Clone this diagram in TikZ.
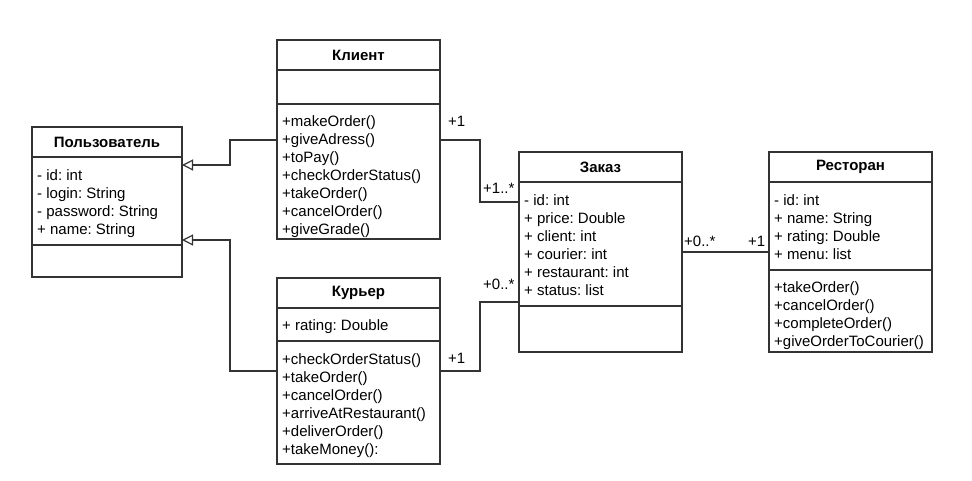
\documentclass[tikz,border=0pt]{standalone}
\usepackage{fontspec}
\setmainfont{Liberation Sans}
\usetikzlibrary{positioning, arrows.meta}

\tikzset{
  classhead/.style={draw=black!80, line width=1.2pt, outer sep=0pt, inner xsep=5pt, inner ysep=0pt,
    text width=153pt, align=center, minimum height=30pt, font=\fontsize{15}{18}\selectfont\bfseries},
  classpart/.style={draw=black!80, line width=1.2pt, outer sep=0pt, inner sep=0pt,
    minimum width=163pt, minimum height=#1},
  narrow/.style={text width=140pt, minimum width=150pt},
  members/.style={inner sep=0pt, align=left, font=\fontsize{15}{18}\selectfont\frenchspacing},
  generalize/.style={draw=black!80, line width=1.2pt, -{Triangle[open, length=11pt, width=11pt, fill=white]}},
  assoc/.style={draw=black!80, line width=1.2pt},
  mult/.style={font=\fontsize{15}{18}\selectfont, inner sep=0pt}
}

\begin{document}
\begin{tikzpicture}[x=1pt, y=-1pt]
    \useasboundingbox (0,0) rectangle (972,480);

    % Пользователь
    \node[classhead, narrow] (user) at (107,142) {Пользователь};
    \node[classpart=88pt, narrow, below=0pt of user] (userattr) {};
    \node[classpart=32pt, narrow, below=0pt of userattr] (userops) {};
    \node[members, below right=12pt and 5pt of userattr.north west] (userattrtxt)
        {- id: int\\- login: String\\- password: String\\+ name: String};

    % Клиент
    \node[classhead] (klient) at (358.5,55) {Клиент};
    \node[classpart=34pt, below=0pt of klient] (klientattr) {};
    \node[classpart=135pt, below=0pt of klientattr] (klientops) {};
    \node[members, below right=11pt and 5pt of klientops.north west] (klientopstxt)
        {+makeOrder()\\+giveAdress()\\+toPay()\\+checkOrderStatus()\\+takeOrder()\\+cancelOrder()\\+giveGrade()};

    % Курьер
    \node[classhead] (kurer) at (358.5,293) {Курьер};
    \node[classpart=33pt, below=0pt of kurer] (kurerattr) {};
    \node[classpart=123pt, below=0pt of kurerattr] (kurerops) {};
    \node[members, below right=11pt and 5pt of kurerattr.north west] (kurerattrtxt) {+ rating: Double};
    \node[members, below right=12pt and 5pt of kurerops.north west] (kureropstxt)
        {+checkOrderStatus()\\+takeOrder()\\+cancelOrder()\\+arriveAtRestaurant()\\+deliverOrder()\\+takeMoney():};

    % Заказ
    \node[classhead] (zakaz) at (600.5,167) {Заказ};
    \node[classpart=124pt, below=0pt of zakaz] (zakazattr) {};
    \node[classpart=46pt, below=0pt of zakazattr] (zakazops) {};
    \node[members, below right=12pt and 5pt of zakazattr.north west] (zakazattrtxt)
        {- id: int\\+ price: Double\\+ client: int\\+ courier: int\\+ restaurant: int\\+ status: list};

    % Ресторан
    \node[classhead] (rest) at (850.5,167) {Ресторан};
    \node[classpart=88pt, below=0pt of rest] (restattr) {};
    \node[classpart=82pt, below=0pt of restattr] (restops) {};
    \node[members, below right=12pt and 5pt of restattr.north west] (restattrtxt)
        {- id: int\\+ name: String\\+ rating: Double\\+ menu: list};
    \node[members, below right=11pt and 5pt of restops.north west] (restopstxt)
        {+takeOrder()\\+cancelOrder()\\+completeOrder()\\+giveOrderToCourier()};

    % inheritance
    \draw[generalize] (klientops.west |- 0,140) -- ++(-47,0) |- (userattr.east |- 0,165);
    \draw[generalize] (kurerops.west |- 0,371) -- ++(-47,0) |- (userattr.east |- 0,240);

    % associations
    \draw[assoc] (klientops.east |- 0,140) -- ++(40,0) |- (zakazattr.west |- 0,202);
    \draw[assoc] (kurerops.east |- 0,371) -- ++(40,0) |- (zakazattr.west |- 0,302);
    \draw[assoc] (zakazattr.east |- 0,252) -- (restattr.west |- 0,252);

    % multiplicities
    \node[mult, anchor=west] (m1) at (448,121) {+1};
    \node[mult, anchor=west] (m2) at (483,188) {+1..*};
    \node[mult, anchor=west] (m3) at (448,358) {+1};
    \node[mult, anchor=west] (m4) at (483,284) {+0..*};
    \node[mult, anchor=west] (m5) at (684,241) {+0..*};
    \node[mult, anchor=west] (m6) at (748,241) {+1};
\end{tikzpicture}
\end{document}
